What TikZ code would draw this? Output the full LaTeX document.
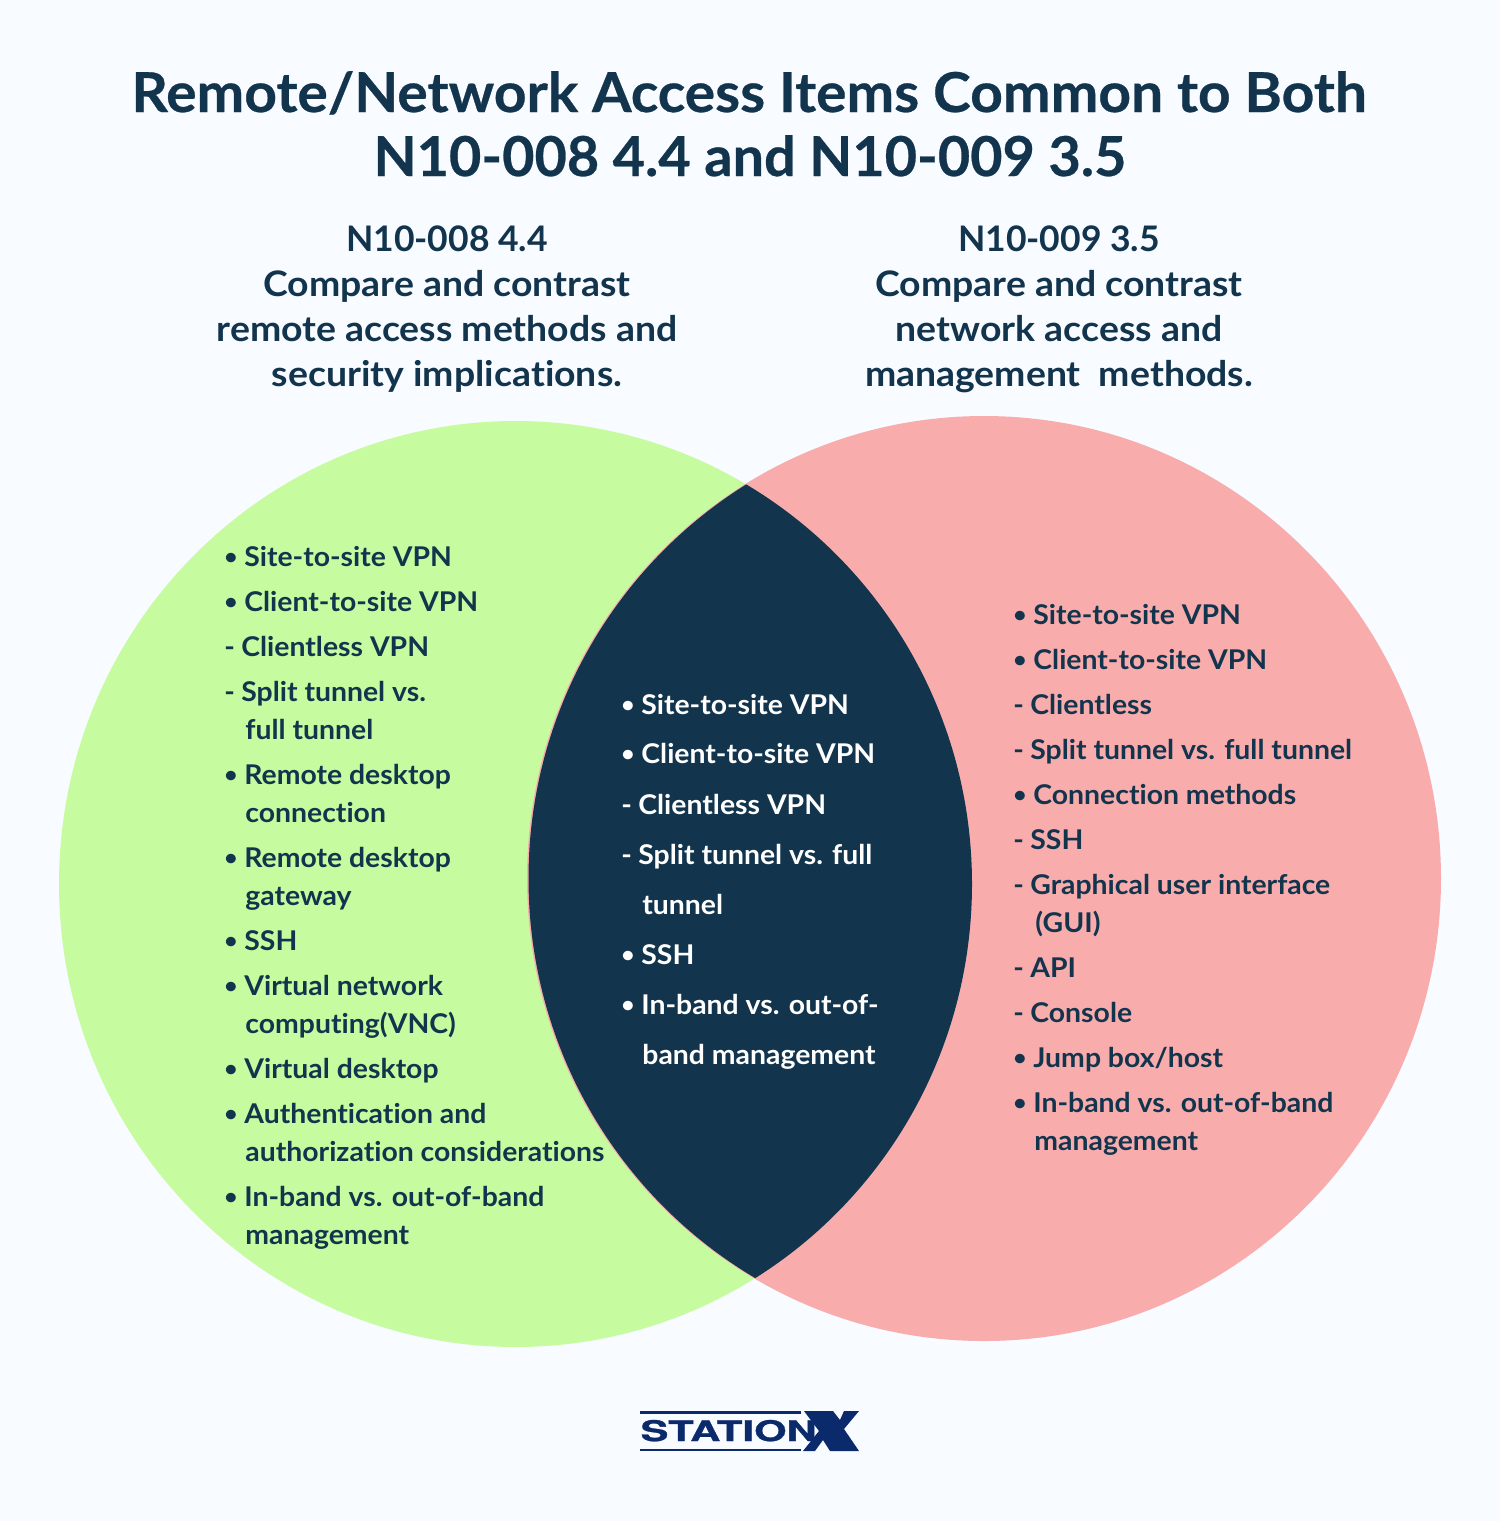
\documentclass[tikz,border=0pt]{standalone}
\usepackage{fontspec}
\newfontfamily\titlefont{Lato Bold}[FakeStretch=1.035, FakeBold=0.5, Ligatures=NoCommon]
\newfontfamily\headfont{Lato Bold}[FakeStretch=1.062, Ligatures=NoCommon]
\newfontfamily\itemfont{Lato Bold}[FakeStretch=1.043, Ligatures=NoCommon]
\newfontfamily\logofont{TeX Gyre Heros Bold}[FakeBold=1]
\usetikzlibrary{positioning}
\definecolor{pagebg}{HTML}{F8FBFF}
\definecolor{leftgreen}{HTML}{C7FBA0}
\definecolor{rightpink}{HTML}{F9ACAC}
\definecolor{navy}{HTML}{12344D}
\definecolor{logoblue}{HTML}{0B2A6B}
\newcommand{\itemdot}{\makebox[10pt][l]{\raisebox{0.7pt}{\scalebox{0.8}{•}}}}
\newcommand{\itemdash}{\makebox[8.5pt][l]{-}}
\tikzset{
  titletext/.style={font=\titlefont\fontsize{27.5}{27.5}\selectfont, text=navy, inner sep=0pt, anchor=base},
  headtext/.style={font=\headfont\fontsize{17.6}{17.6}\selectfont, text=navy, inner sep=0pt, anchor=base},
  itemtext/.style={font=\itemfont\fontsize{13.6}{13.6}\selectfont, text=navy, inner sep=0pt, anchor=base west, yshift=-0.5pt},
  itemlight/.style={itemtext, text=white},
}
\begin{document}
\begin{tikzpicture}[x=0.5pt, y=-0.5pt]
  \useasboundingbox (0,0) rectangle (1500,1521);
  \fill[pagebg] (0,0) rectangle (1500,1521);

  \fill[leftgreen] (515.5,884) ellipse [x radius=456.5, y radius=463];
  \fill[rightpink] (984,878.5) ellipse [x radius=457, y radius=462.5];
  \begin{scope}
    \clip (515.5,884) ellipse [x radius=456.5, y radius=463];
    \fill[navy] (985.5,878.5) ellipse [x radius=457, y radius=462.5];
  \end{scope}

  \node[titletext] (title1) at (749,112) {Remote/Network Access Items Common to Both};
  \node[titletext, xscale=0.98] (title2) at (750,176) {N10-008 4.4 and N10-009 3.5};

  \node[headtext, xscale=0.95] (lhead1) at (447,251) {N10-008 4.4};
  \foreach \n/\y/\t in {2/296/Compare and contrast, 3/341/remote access methods and, 4/386/security implications.}
    \node[headtext] (lhead\n) at (447,\y) {\t};
  \node[headtext, xscale=0.95] (rhead1) at (1059,251) {N10-009 3.5};
  \foreach \n/\y/\t in {2/296/Compare and contrast, 3/341/network access and, 4/386/management\ \ methods.}
    \node[headtext] (rhead\n) at (1059,\y) {\t};

  \foreach \n/\x/\y/\t in {
    1/224/565/{\itemdot Site-to-site VPN},
    2/224/610/{\itemdot Client-to-site VPN},
    3/224/655/{\itemdash Clientless VPN},
    4/224/700/{\itemdash Split tunnel vs.},
    5/245/738/{full tunnel},
    6/224/783/{\itemdot Remote desktop},
    7/245/821/{connection},
    8/224/866/{\itemdot Remote desktop},
    9/245/904/{gateway},
    10/224/949/{\itemdot SSH},
    11/224/994/{\itemdot Virtual network},
    12/245/1032/{computing(VNC)},
    13/224/1077/{\itemdot Virtual desktop},
    14/224/1122/{\itemdot Authentication and},
    15/245/1160/{authorization considerations},
    16/224/1205/{\itemdot In-band vs. out-of-band},
    17/245/1243/{management}}
    \node[itemtext] (left\n) at (\x,\y) {\t};

  \foreach \n/\x/\y/\t in {
    1/621/713/{\itemdot Site-to-site VPN},
    2/621/762/{\itemdot Client-to-site VPN},
    3/621/813/{\itemdash Clientless VPN},
    4/621/863/{\itemdash Split tunnel vs. full},
    5/642/913/{tunnel},
    6/621/963/{\itemdot SSH},
    7/621/1013/{\itemdot In-band vs. out-of-},
    8/642/1063/{band management}}
    \node[itemlight] (mid\n) at (\x,\y) {\t};

  \foreach \n/\x/\y/\t in {
    1/1013/623/{\itemdot Site-to-site VPN},
    2/1013/668/{\itemdot Client-to-site VPN},
    3/1013/713/{\itemdash Clientless},
    4/1013/758/{\itemdash Split tunnel vs. full tunnel},
    5/1013/803/{\itemdot Connection methods},
    6/1013/848/{\itemdash SSH},
    7/1013/893/{\itemdash Graphical user interface},
    8/1035/931/{(GUI)},
    9/1013/976/{\itemdash API},
    10/1013/1021/{\itemdash Console},
    11/1013/1066/{\itemdot Jump box/host},
    12/1013/1111/{\itemdot In-band vs. out-of-band},
    13/1034/1149/{management}}
    \node[itemtext] (right\n) at (\x,\y) {\t};

  \fill[logoblue] (640,1411) rectangle (801,1413.5);
  \fill[logoblue] (640,1448.5) rectangle (801,1451);
  \fill[logoblue] (804,1411) -- (833,1411) -- (840,1420) -- (844,1411) -- (859,1411)
    -- (844,1429) -- (859,1451) -- (830,1451) -- (823,1440) -- (815,1451) -- (803,1451)
    -- (819,1431) -- cycle;
  \node[font=\logofont\fontsize{14.2}{14.2}\selectfont, text=logoblue, inner sep=0pt,
    anchor=base west, xscale=1.47] (logo) at (640,1441) {STATION};
\end{tikzpicture}
\end{document}
